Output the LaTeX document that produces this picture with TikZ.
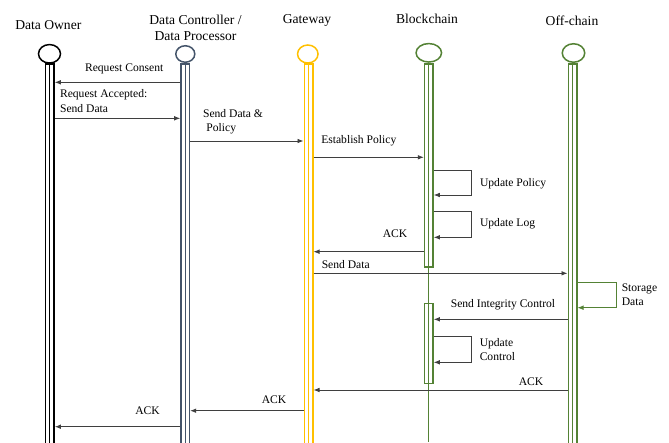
\documentclass[tikz,border=0pt]{standalone}
\usepackage{fontspec}
\setmainfont{Liberation Serif}
\usetikzlibrary{arrows.meta,shapes.geometric}
\definecolor{ctrl}{HTML}{44546A}
\definecolor{gate}{HTML}{FFC000}
\definecolor{chain}{HTML}{548235}
\definecolor{msgline}{HTML}{3F3F3F}

\begin{document}
\begin{tikzpicture}[x=1pt, y=-1pt, line width=1.5pt,
  title/.style={font=\fontsize{13.6}{16}\selectfont, align=center, inner sep=0pt},
  lbl/.style={font=\fontsize{11.6}{14.4}\selectfont, align=left, inner sep=0pt},
  head/.style={draw, ellipse, fill=white, inner sep=0pt},
  bar/.style={draw, fill=white, minimum width=8.5pt, inner sep=0pt, anchor=north},
  mid/.style={line width=1pt},
  msg/.style={draw=msgline, line width=0.8pt, -{Latex[length=6pt,width=4.6pt]}}]
\useasboundingbox (0,0) rectangle (669,442);

\node[title] (doTitle) at (48.3,25) {Data Owner};
\node[title] (dcTitle) at (195.5,28) {Data Controller /\\Data Processor};
\node[title] (gwTitle) at (307,20) {Gateway};
\node[title] (bcTitle) at (427,18.5) {Blockchain};
\node[title] (ocTitle) at (572,20.5) {Off-chain};

\node[bar, draw=black, minimum height=380pt] (dobar) at (49.8,63) {};
\node[bar, draw=ctrl, minimum height=380pt] (dcbar) at (185.2,63) {};
\node[bar, draw=gate, minimum height=380pt] (gwbar) at (308.5,63) {};
\node[bar, draw=chain, minimum height=203pt] (bcbar) at (428.8,63) {};
\node[bar, draw=chain, minimum height=380pt] (ocbar) at (572.5,63) {};
\draw[mid] (dobar.north) -- (dobar.south);
\draw[mid, ctrl] (dcbar.north) -- (dcbar.south);
\draw[mid, gate] (gwbar.north) -- (gwbar.south);
\draw[mid, chain] (bcbar.north) -- (bcbar.south);
\draw[mid, chain] (ocbar.north) -- (ocbar.south);
\node[bar, draw=chain, fill=none, minimum height=80pt] (bcact) at (428.8,302.7) {};
\draw[mid, chain] (bcbar.south) -- (bcbar.south |- 0,442);

\node[head, draw=black, minimum width=22pt, minimum height=18.5pt] (doHead) at (49.5,53.8) {};
\node[head, draw=ctrl, minimum width=19pt, minimum height=16.5pt] (dcHead) at (185.3,54) {};
\node[head, draw=gate, minimum width=20.5pt, minimum height=18pt] (gwHead) at (307.8,54) {};
\node[head, draw=chain, minimum width=25.5pt, minimum height=18.5pt] (bcHead) at (428.8,52.8) {};
\node[head, draw=chain, minimum width=22.5pt, minimum height=18.5pt] (ocHead) at (573.5,53) {};

\draw[msg] (dcbar.west |- 0,82.3) -- (dobar.east |- 0,82.3);
\node[lbl, anchor=west] (rcLbl) at (84.3,69) {Request Consent};
\draw[msg] (dobar.east |- 0,118.3) -- (dcbar.west |- 0,118.3);
\node[lbl, anchor=west] (raLbl) at (59.3,101.2) {Request Accepted:\\Send Data};
\draw[msg] (dcbar.east |- 0,141) -- (gwbar.west |- 0,141);
\node[lbl, anchor=west] (sdpLbl) at (202.3,121.8) {Send Data \&\\[-1pt]\hspace{3.4pt}Policy};
\draw[msg] (gwbar.east |- 0,157.3) -- (bcbar.west |- 0,157.3);
\node[lbl, anchor=west] (epLbl) at (320.5,141) {Establish Policy};

\draw[msg] (bcbar.east |- 0,170) -- ++(38,0) |- (bcbar.east |- 0,195);
\node[lbl, anchor=west] (upLbl) at (479.3,183.3) {Update Policy};
\draw[msg] (bcbar.east |- 0,211) -- ++(38,0) |- (bcbar.east |- 0,237.3);
\node[lbl, anchor=west] (ulLbl) at (479.3,223.3) {Update Log};

\draw[msg] (bcbar.west |- 0,251.7) -- (gwbar.east |- 0,251.7);
\node[lbl] (ack1Lbl) at (395,234) {ACK};
\draw[msg] (gwbar.east |- 0,273.3) -- (ocbar.west |- 0,273.3);
\node[lbl, anchor=west] (sdLbl) at (321,265) {Send Data};

\draw[msg, draw=chain] (ocbar.east |- 0,282.7) -- ++(39.3,0) |- (ocbar.east |- 0,307.7);
\node[lbl, anchor=west] (sdtLbl) at (621,294.5) {Storage\\Data};

\draw[msg] (ocbar.west |- 0,319.3) -- (bcact.east |- 0,319.3);
\node[lbl] (sicLbl) at (503,305) {Send Integrity Control};
\draw[msg] (bcact.east |- 0,336.7) -- ++(38,0) |- (bcact.east |- 0,362.3);
\node[lbl, anchor=west] (ucLbl) at (479,349.5) {Update\\Control};

\draw[msg] (ocbar.west |- 0,390) -- (gwbar.east |- 0,390);
\node[lbl] (ack2Lbl) at (531,381.7) {ACK};
\draw[msg] (gwbar.west |- 0,410.7) -- (dcbar.east |- 0,410.7);
\node[lbl] (ack3Lbl) at (274,399.3) {ACK};
\draw[msg] (dcbar.west |- 0,426.7) -- (dobar.east |- 0,426.7);
\node[lbl] (ack4Lbl) at (147.5,411) {ACK};
\end{tikzpicture}
\end{document}
